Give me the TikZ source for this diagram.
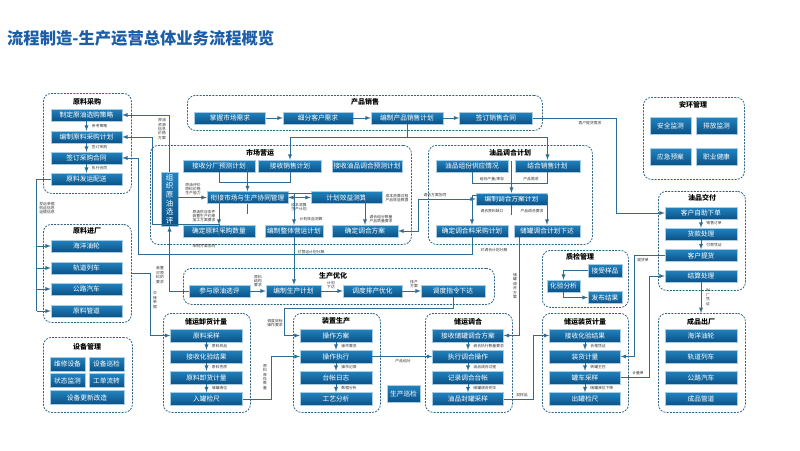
\documentclass[tikz,border=0pt]{standalone}
\usepackage{fontspec}
\setmainfont{Noto Sans CJK SC}
\usetikzlibrary{arrows}
\definecolor{boxtop}{HTML}{2283BF}
\definecolor{boxbot}{HTML}{0B5287}
\definecolor{wirec}{HTML}{2D6C94}
\definecolor{grpc}{HTML}{2E6585}
\definecolor{ttlc}{HTML}{1C5DA6}
\tikzset{
  box/.style={top color=boxtop, bottom color=boxbot, draw=white!60!boxtop, line width=0.4pt, text=white, inner sep=0pt, minimum height=12pt, font=\fontsize{6.7}{7}\selectfont},
  grp/.style={draw=grpc, line width=0.8pt, dash pattern=on 2pt off 1.2pt, rounded corners=8pt, inner sep=0pt, anchor=north west},
  gname/.style={font=\fontsize{7}{8}\selectfont\bfseries, inner sep=0pt},
  lbl/.style={font=\fontsize{3.8}{4.4}\selectfont, inner sep=0pt, align=center, text=black!80},
  conn/.style={draw=wirec, line width=0.9pt, -latex},
  wire/.style={draw=wirec, line width=0.9pt},
}
\begin{document}
\begin{tikzpicture}[x=1pt, y=-1pt]
\useasboundingbox (0,0) rectangle (800,450);
\node[anchor=west, font=\fontsize{16.3}{17}\selectfont\bfseries, text=ttlc, inner sep=0pt] (title) at (7,38) {流程制造-生产运营总体业务流程概览};

% groups
\node[grp, minimum width=88, minimum height=100] (gA) at (43,93) {};
\node[grp, minimum width=355, minimum height=35] (gS) at (187,95) {};
\node[grp, minimum width=261, minimum height=99] (gM) at (150,145) {};
\node[grp, minimum width=164, minimum height=99] (gB) at (428,145) {};
\node[grp, minimum width=101, minimum height=82] (gH) at (643,97) {};
\node[grp, minimum width=87, minimum height=99] (gD) at (658,191) {};
\node[grp, minimum width=88, minimum height=98] (gR) at (43,224) {};
\node[grp, minimum width=89, minimum height=75] (gE) at (43,337) {};
\node[grp, minimum width=311, minimum height=36] (gP) at (183,268) {};
\node[grp, minimum width=86, minimum height=57] (gQ) at (542,250) {};
\node[grp, minimum width=87, minimum height=99] (gU) at (163,313) {};
\node[grp, minimum width=87, minimum height=99] (gV) at (293,313) {};
\node[grp, minimum width=87, minimum height=99] (gW) at (425,313) {};
\node[grp, minimum width=86, minimum height=99] (gX) at (542,313) {};
\node[grp, minimum width=87, minimum height=99] (gO) at (658,313) {};

\node[gname] (tA) at (87,102) {原料采购};
\node[gname] (tS) at (365,102) {产品销售};
\node[gname] (tM) at (260,153) {市场营运};
\node[gname] (tB) at (510,153) {油品调合计划};
\node[gname] (tH) at (693,105) {安环管理};
\node[gname] (tD) at (702,198) {油品交付};
\node[gname] (tR) at (87,231) {原料进厂};
\node[gname] (tE) at (87,347) {设备管理};
\node[gname] (tP) at (333,276) {生产优化};
\node[gname] (tQ) at (580,257) {质检管理};
\node[gname] (tU) at (206,322) {储运卸货计量};
\node[gname] (tV) at (336,321) {装置生产};
\node[gname] (tW) at (468,322) {储运调合};
\node[gname] (tX) at (585,322) {储运装货计量};
\node[gname] (tO) at (701,322) {成品出厂};

% 原料采购
\node[box, minimum width=71] (a1) at (86.5,115) {制定原油选购策略};
\node[box, minimum width=71] (a2) at (86.5,137) {编制原料采购计划};
\node[box, minimum width=71] (a3) at (86.5,158) {签订采购合同};
\node[box, minimum width=71] (a4) at (86.5,179) {原料发运配送};
\draw[conn] (a1) -- (a2) node[lbl, midway, right=5pt] (la1) {参考策略};
\draw[conn] (a2) -- (a3) node[lbl, midway, right=5pt] (la2) {签订采购};
\draw[conn] (a3) -- (a4) node[lbl, midway, right=5pt] (la3) {执行合同};

% 产品销售
\node[box, minimum width=71] (s1) at (230,118) {掌握市场需求};
\node[box, minimum width=70] (s2) at (318,118) {细分客户需求};
\node[box, minimum width=72] (s3) at (407,118) {编制产品销售计划};
\node[box, minimum width=73] (s4) at (496,118) {签订销售合同};
\draw[conn] (s1) -- (s2);
\draw[conn] (s2) -- (s3);
\draw[conn] (s3) -- (s4);

% 市场营运
\node[box, minimum width=17, minimum height=54, align=center, font=\fontsize{7.5}{8.6}\selectfont] (m0) at (169.5,199) {组\\织\\原\\油\\选\\评};
\node[box, minimum width=72] (m1) at (219,166) {接收分厂预测计划};
\node[box, minimum width=63] (m2) at (290,166) {接收销售计划};
\node[box, minimum width=70] (m3) at (367,166) {接收油品调合预测计划};
\node[box, minimum width=81] (m4) at (247.5,197.5) {衔接市场与生产协同管理};
\node[box, minimum width=71] (m5) at (346.5,197.5) {计划效益测算};
\node[box, minimum width=72] (m6) at (219,231) {确定原料采购数量};
\node[box, minimum width=58] (m7) at (294,231) {编制整体营运计划};
\node[box, minimum width=66] (m8) at (365,231) {确定调合方案};

% 油品调合计划
\node[box, minimum width=72] (b1) at (472,166) {油品组份供应情况};
\node[box, minimum width=65] (b2) at (547.5,166) {结合销售计划};
\node[box, minimum width=71] (b3) at (511.5,199) {编制调合方案计划};
\node[box, minimum width=72] (b4) at (472,231) {确定调合料采购计划};
\node[box, minimum width=66] (b5) at (547,231) {储罐调合计划下达};

% 安环管理
\node[box, minimum width=41, minimum height=17] (h1) at (670.5,125.5) {安全监测};
\node[box, minimum width=41, minimum height=17] (h2) at (716.5,125.5) {排放监测};
\node[box, minimum width=41, minimum height=17] (h3) at (670.5,157) {应急预案};
\node[box, minimum width=41, minimum height=17] (h4) at (716.5,157) {职业健康};

% 油品交付
\node[box, minimum width=72] (d1) at (701,213) {客户自助下单};
\node[box, minimum width=72] (d2) at (701,234) {货款处理};
\node[box, minimum width=72] (d3) at (701,255.5) {客户提货};
\node[box, minimum width=72] (d4) at (701,276) {结算处理};
\draw[conn] (d1) -- (d2) node[lbl, midway, right=5pt] (ld1) {销售订单};
\draw[conn] (d2) -- (d3) node[lbl, midway, right=5pt] (ld2) {付款凭证};

% 原料进厂
\node[box, minimum width=71] (r1) at (86.5,246) {海洋油轮};
\node[box, minimum width=71] (r2) at (86.5,268) {轨道列车};
\node[box, minimum width=71] (r3) at (86.5,289) {公路汽车};
\node[box, minimum width=71] (r4) at (86.5,311) {原料管道};

% 设备管理
\node[box, minimum width=35, minimum height=14] (e1) at (67.5,364) {维修设备};
\node[box, minimum width=35, minimum height=14] (e2) at (106.5,364) {设备巡检};
\node[box, minimum width=35, minimum height=14] (e3) at (67.5,380.5) {状态监测};
\node[box, minimum width=35, minimum height=14] (e4) at (106.5,380.5) {工单流转};
\node[box, minimum width=74, minimum height=14] (e5) at (87,397.5) {设备更新改造};

% 生产优化
\node[box, minimum width=61] (p1) at (219.5,291) {参与原油选评};
\node[box, minimum width=55] (p2) at (293.5,291) {编制生产计划};
\node[box, minimum width=59] (p3) at (372.5,291) {调度排产优化};
\node[box, minimum width=64] (p4) at (453,291) {调度指令下达};

% 质检管理
\node[box, minimum width=34, minimum height=13] (q1) at (605,270.5) {接受样品};
\node[box, minimum width=33] (q2) at (563.5,286) {化验分析};
\node[box, minimum width=34] (q3) at (605,297.5) {发布结果};

% 储运卸货计量
\node[box, minimum width=72, minimum height=13] (u1) at (206.5,335.5) {原料采样};
\node[box, minimum width=72, minimum height=13] (u2) at (206.5,356.5) {接收化验结果};
\node[box, minimum width=72, minimum height=13] (u3) at (206.5,377.5) {原料卸货计量};
\node[box, minimum width=72, minimum height=13] (u4) at (206.5,399) {入罐检尺};
\draw[conn] (u1) -- (u2) node[lbl, midway, right=5pt] (lu1) {原料样品};
\draw[conn] (u2) -- (u3) node[lbl, midway, right=5pt] (lu2) {原料性质};
\draw[conn] (u3) -- (u4) node[lbl, midway, right=5pt] (lu3) {储罐液位};

% 装置生产
\node[box, minimum width=72, minimum height=13] (v1) at (336,335.5) {操作方案};
\node[box, minimum width=72, minimum height=13] (v2) at (336,356.5) {操作执行};
\node[box, minimum width=72, minimum height=13] (v3) at (336,377.5) {台帐日志};
\node[box, minimum width=72, minimum height=13] (v4) at (336,399) {工艺分析};
\draw[conn] (v1) -- (v2) node[lbl, midway, right=5pt] (lv1) {操作要求};
\draw[conn] (v2) -- (v3) node[lbl, midway, right=5pt] (lv2) {操作记录};
\draw[conn] (v3) -- (v4) node[lbl, midway, right=5pt] (lv3) {数据分析};
\node[box, minimum width=33, minimum height=17] (pz) at (403.5,393.5) {生产巡检};

% 储运调合
\node[box, minimum width=71, minimum height=13] (w1) at (468,335.5) {接收储罐调合方案};
\node[box, minimum width=71, minimum height=13] (w2) at (468,356.5) {执行调合操作};
\node[box, minimum width=71, minimum height=13] (w3) at (468,377.5) {记录调合台帐};
\node[box, minimum width=71, minimum height=13] (w4) at (468,399) {油品封罐采样};
\draw[conn] (w1) -- (w2) node[lbl, midway, right=5pt] (lw1) {调合执行数量要求};
\draw[conn] (w2) -- (w3) node[lbl, midway, right=5pt] (lw2) {油品调合过程};
\draw[conn] (w3) -- (w4) node[lbl, midway, right=5pt] (lw3) {储罐调合完毕};

% 储运装货计量
\node[box, minimum width=71, minimum height=13] (x1) at (585,335.5) {接收化验结果};
\node[box, minimum width=71, minimum height=13] (x2) at (585,356.5) {装货计量};
\node[box, minimum width=71, minimum height=13] (x3) at (585,377.5) {罐车采样};
\node[box, minimum width=71, minimum height=13] (x4) at (585,399) {出罐检尺};
\draw[conn] (x1) -- (x2) node[lbl, midway, right=5pt] (lx1) {合格凭证};
\draw[conn] (x2) -- (x3) node[lbl, midway, right=5pt] (lx2) {转罐主控};
\draw[conn] (x3) -- (x4) node[lbl, midway, right=5pt] (lx3) {储罐液位下降};

% 成品出厂
\node[box, minimum width=72, minimum height=13] (o1) at (701,335.5) {海洋油轮};
\node[box, minimum width=72, minimum height=13] (o2) at (701,356.5) {轨道列车};
\node[box, minimum width=72, minimum height=13] (o3) at (701,377.5) {公路汽车};
\node[box, minimum width=72, minimum height=13] (o4) at (701,399) {成品管道};

% connectors
\draw[conn] (s3.south) -- ++(0,13) -| (m2.north);
\draw[conn] (s3.south) ++(0,13) -| (b2.north);
\draw[conn] (s4.east) -| ([xshift=-48]d1.west) -- (d1.west);
\node[lbl] (ls4) at (590,123) {客户提货需求};
\draw[conn] (m0.north) |- (a1.east);
\node[lbl] (lm0) at (162,129) {原油\\资源\\信息\\价格\\方案};
\draw[conn] (m0.east |- m4.west) -- (m4.west);
\node[lbl] (lm0b) at (193,189) {原油评价\\原料价格\\生产能力};
\draw[wire] (m1.south) -- ++(0,10) -| (m2.south);
\draw[conn] ([yshift=10]m1.south -| m4.north) -- (m4.north);
\draw[conn, latex-latex] (m4) -- (m5);
\node[lbl] (lm4) at (299,207) {成本测算\\生产计划};
\node[lbl] (lm5) at (397,198) {成本测算过程\\产品效益数据};
\draw[wire] (m4.south) -- ++(0,10.5);
\draw[conn] ([yshift=10.5]m4.south) -| (m6.north);
\draw[conn] ([yshift=10.5]m4.south) -| (m7.north);
\draw[conn] ([yshift=10.5]m4.south) -| (m8.north);
\node[lbl] (lm6) at (204,216) {原油供应条件\\装置生产约束\\加工方案要求};
\node[lbl] (lm7) at (311,219) {计划效益测算};
\node[lbl] (lm8) at (381,219) {调合组分数量\\产品质量要求};
\draw[conn, latex-latex] (b3.west) -- ++(-57,0) |- (m8.east);
\node[lbl] (lb3) at (435,195) {调合方案协同};
\draw[conn, latex-latex] (a2.east) -- ++(30.5,0) |- ([yshift=13]m6.south) -- (m6.south);
\node[lbl] (la2b) at (204,246.5) {采购方案协同};
\draw[conn] (b4.south) -- ++(0,17) -| ([xshift=16]a3.east) -- (a3.east);
\node[lbl] (lb4) at (494,250) {对调合计划分解};
\draw[wire] (b1.south) -- ++(0,11) -| (b2.south);
\draw[conn] ([yshift=11]b1.south -| b3.north) -- (b3.north);
\node[lbl] (lb1) at (492,179) {组份产量/库存};
\node[lbl] (lb2) at (531,179) {产品需求};
\draw[wire] (b3.south) -- ++(0,10);
\draw[conn] ([yshift=10]b3.south) -| (b4.north);
\draw[conn] ([yshift=10]b3.south) -| (b5.north);
\node[lbl] (lb3b) at (492,211) {调合原料缺口};
\node[lbl] (lb3c) at (532,211) {产品调合要求};
\draw[conn] ([xshift=-28]b5.south) |- (w1.east);
\node[lbl] (lb5) at (515,286) {储\\罐\\调\\合\\方\\案};
\draw[conn] (m7.south) -- (m7.south |- p2.north);
\node[lbl] (lm7b) at (311,252) {对营运计划分解};
\draw[conn] (p1) -- (p2);
\node[lbl] (lp1) at (258,281) {原料\\结构\\要求};
\draw[conn] (p2) -- (p3);
\node[lbl] (lp2) at (331,285) {计划\\下达};
\draw[conn] (p3) -- (p4);
\node[lbl] (lp3) at (414,284) {排产\\方案};
\draw[conn] (p1.west) -| (m0.south);
\node[lbl] (lp1b) at (160,275) {装置\\对原\\料的\\要求};
\draw[conn] (p4.south) -- ++(0,11) -| ([xshift=-15]v1.west) -- (v1.west);
\node[lbl] (lp4) at (275,323) {调度目标\\操作要求};
\coordinate (rbus) at ([xshift=-14]a4.west);
\draw[wire] (a4.west) -- (rbus) -- (rbus |- r4.west);
\draw[conn] (rbus |- r1.west) -- (r1.west);
\draw[conn] (rbus |- r2.west) -- (r2.west);
\draw[conn] (rbus |- r3.west) -- (r3.west);
\draw[conn] (rbus |- r4.west) -- (r4.west);
\node[lbl] (la4) at (47,208) {发运单据\\航运信息\\运输信息};
\draw[conn] (gR.east) -| ([xshift=-20]u1.west) -- (u1.west);
\node[lbl] (lgr) at (155,300) {交\\接\\单\\据};
\draw[conn] (u4.east) -- ++(28.5,0) |- (v2.west);
\node[lbl] (lu4) at (265,377) {原\\料\\库\\存\\数\\量};
\draw[conn] (v2) -- (w2);
\node[lbl] (lv2b) at (403,361) {产品组分};
\draw[conn] (w4.east) -- ++(29.5,0) |- (x1.west);
\node[lbl] (lw4) at (522,395) {双样品};
\draw[conn] (d3.west) -- ++(-30,0) |- (x2.east);
\node[lbl] (ld3) at (643,260) {提货单};
\draw[conn] (x3.east) -| ([xshift=-15]d4.west) -- (d4.west);
\node[lbl] (lx3) at (638,373) {计量单};
\draw[conn] (d4.south) -- (d4.south |- gO.north);
\node[lbl] (ld4) at (708,297) {出\\厂\\凭\\证};
\draw[conn] (q1.west) -| (q2.north);
\draw[conn] (q2.south) |- (q3.west);
\end{tikzpicture}
\end{document}
